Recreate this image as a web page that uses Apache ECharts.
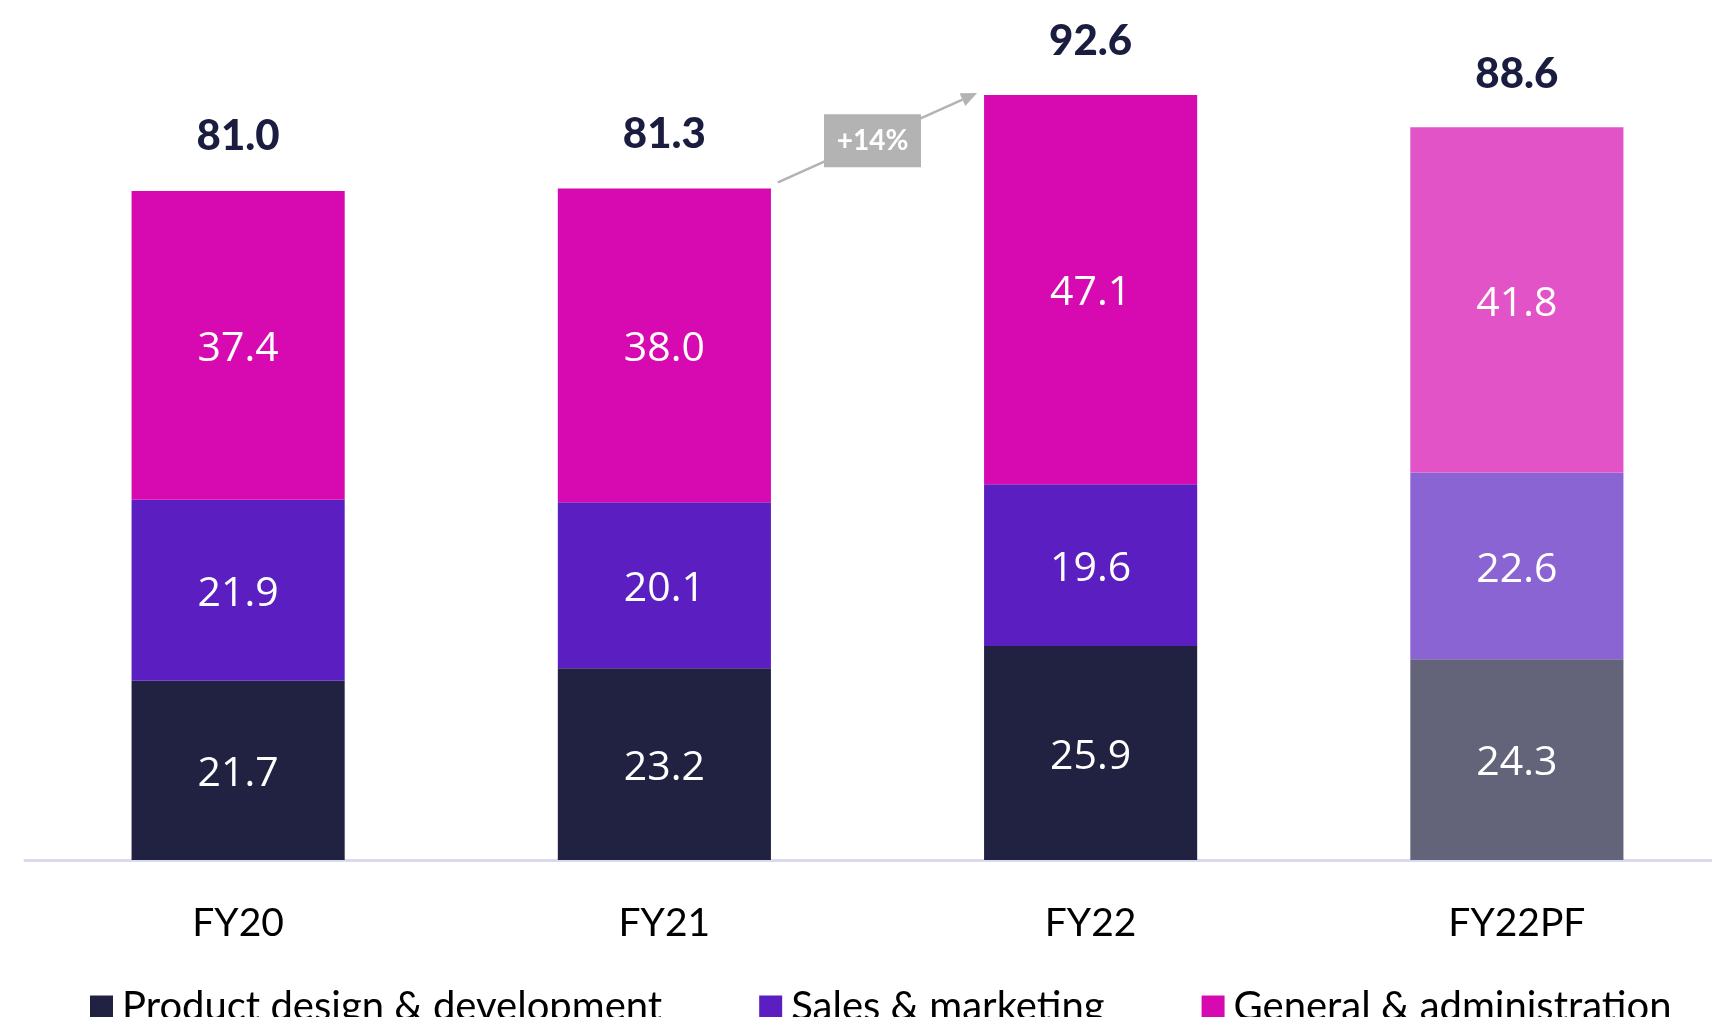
<!DOCTYPE html>
<html>
<head>
<meta charset="utf-8">
<script src="https://cdn.jsdelivr.net/npm/echarts@6/dist/echarts.min.js"></script>
<style>
html,body{margin:0;padding:0;background:#fff;}
#c{width:1712px;height:1017px;}
</style>
</head>
<body>
<div id="c"></div>
<script>
const categories = ['FY20', 'FY21', 'FY22', 'FY22PF'];
const productDesign = [21.7, 23.2, 25.9, 24.3];
const salesMarketing = [21.9, 20.1, 19.6, 22.6];
const generalAdmin = [37.4, 38.0, 47.1, 41.8];
const totals = [81.0, 81.3, 92.6, 88.6];
const growthLabel = '+14%';
const seriesNames = ['Product design & development', 'Sales & marketing', 'General & administration'];

const baseColors = ['#212142', '#5b1fc1', '#d70ab1'];
const pfColors = ['#636379', '#8b64d4', '#e253c8'];

function buildData(values, si) {
  return values.map((v, i) => ({
    value: v,
    itemStyle: { color: categories[i] === 'FY22PF' ? pfColors[si] : baseColors[si] }
  }));
}

const segLabel = {
  show: true,
  position: 'inside',
  offset: [0, 4],
  color: '#ffffff',
  fontFamily: 'Open Sans',
  fontSize: 41,
  formatter: p => p.value.toFixed(1)
};

const chart = echarts.init(document.getElementById('c'), null, { renderer: 'canvas' });

const option = {
  animation: false,
  backgroundColor: '#ffffff',
  grid: { left: 25, width: 1705, top: 34, bottom: 157, outerBoundsMode: 'none', containLabel: false },
  legend: {
    data: seriesNames,
    left: 85,
    top: 982,
    icon: 'rect',
    itemWidth: 23,
    itemHeight: 23,
    itemGap: 97,
    textStyle: { fontFamily: 'Lato', fontSize: 40, color: '#000000', lineHeight: 40, padding: [0, 0, 0, 4] }
  },
  xAxis: {
    type: 'category',
    data: categories,
    offset: 2,
    axisLine: { show: true, lineStyle: { color: '#d9d9f0', width: 3 } },
    axisTick: { show: false },
    axisLabel: { fontFamily: 'Lato', fontSize: 39, lineHeight: 39, color: '#000000', margin: 42 }
  },
  yAxis: { type: 'value', min: 0, max: 100, show: false, splitLine: { show: false } },
  series: [
    { name: seriesNames[0], type: 'bar', stack: 'a', barWidth: '50%', data: buildData(productDesign, 0), label: segLabel, itemStyle: { color: baseColors[0] } },
    { name: seriesNames[1], type: 'bar', stack: 'a', barWidth: '50%', data: buildData(salesMarketing, 1), label: segLabel, itemStyle: { color: baseColors[1] } },
    { name: seriesNames[2], type: 'bar', stack: 'a', barWidth: '50%', data: buildData(generalAdmin, 2), label: segLabel, itemStyle: { color: baseColors[2] } },
    {
      name: 'Total', type: 'scatter', data: totals, symbolSize: 0, silent: true,
      itemStyle: { opacity: 1 },
      label: { show: true, position: 'top', distance: 33, fontFamily: 'Lato', fontWeight: 900, fontSize: 42, color: '#1a1c40', opacity: 1, formatter: p => p.value.toFixed(1) }
    }
  ]
};
chart.setOption(option);

// growth annotation between FY21 and FY22 totals
const pA = chart.convertToPixel({ seriesIndex: 3 }, [1, totals[1]]);
const pB = chart.convertToPixel({ seriesIndex: 3 }, [2, totals[2]]);
const band = chart.convertToPixel({ xAxisIndex: 0 }, 2) - chart.convertToPixel({ xAxisIndex: 0 }, 1);
const half = band / 4;
const x1 = pA[0] + half + 7, y1 = pA[1] - 6;
const x2 = pB[0] - half - 7, y2 = pB[1] - 2;
const ang = Math.atan2(y2 - y1, x2 - x1);
const headLen = 16, headW = 7;
const bx = x2 - headLen * Math.cos(ang), by = y2 - headLen * Math.sin(ang);
const nx = -Math.sin(ang), ny = Math.cos(ang);
const mx = (x1 + x2) / 2 - 5, my = (y1 + y2) / 2 + 3;
chart.setOption({
  graphic: [
    { type: 'line', shape: { x1: x1, y1: y1, x2: bx, y2: by }, style: { stroke: '#b3b3b3', lineWidth: 2.5 }, z: 10 },
    { type: 'polygon', shape: { points: [[x2, y2], [bx + nx * headW, by + ny * headW], [bx - nx * headW, by - ny * headW]] }, style: { fill: '#b3b3b3' }, z: 10 },
    { type: 'rect', shape: { x: mx - 48.5, y: my - 26.5, width: 97, height: 53 }, style: { fill: '#b3b3b3' }, z: 11 },
    { type: 'text', x: mx, y: my, style: { text: growthLabel, fill: '#ffffff', font: 'bold 28px Lato', align: 'center', verticalAlign: 'middle' }, z: 12 }
  ]
});
</script>
</body>
</html>
